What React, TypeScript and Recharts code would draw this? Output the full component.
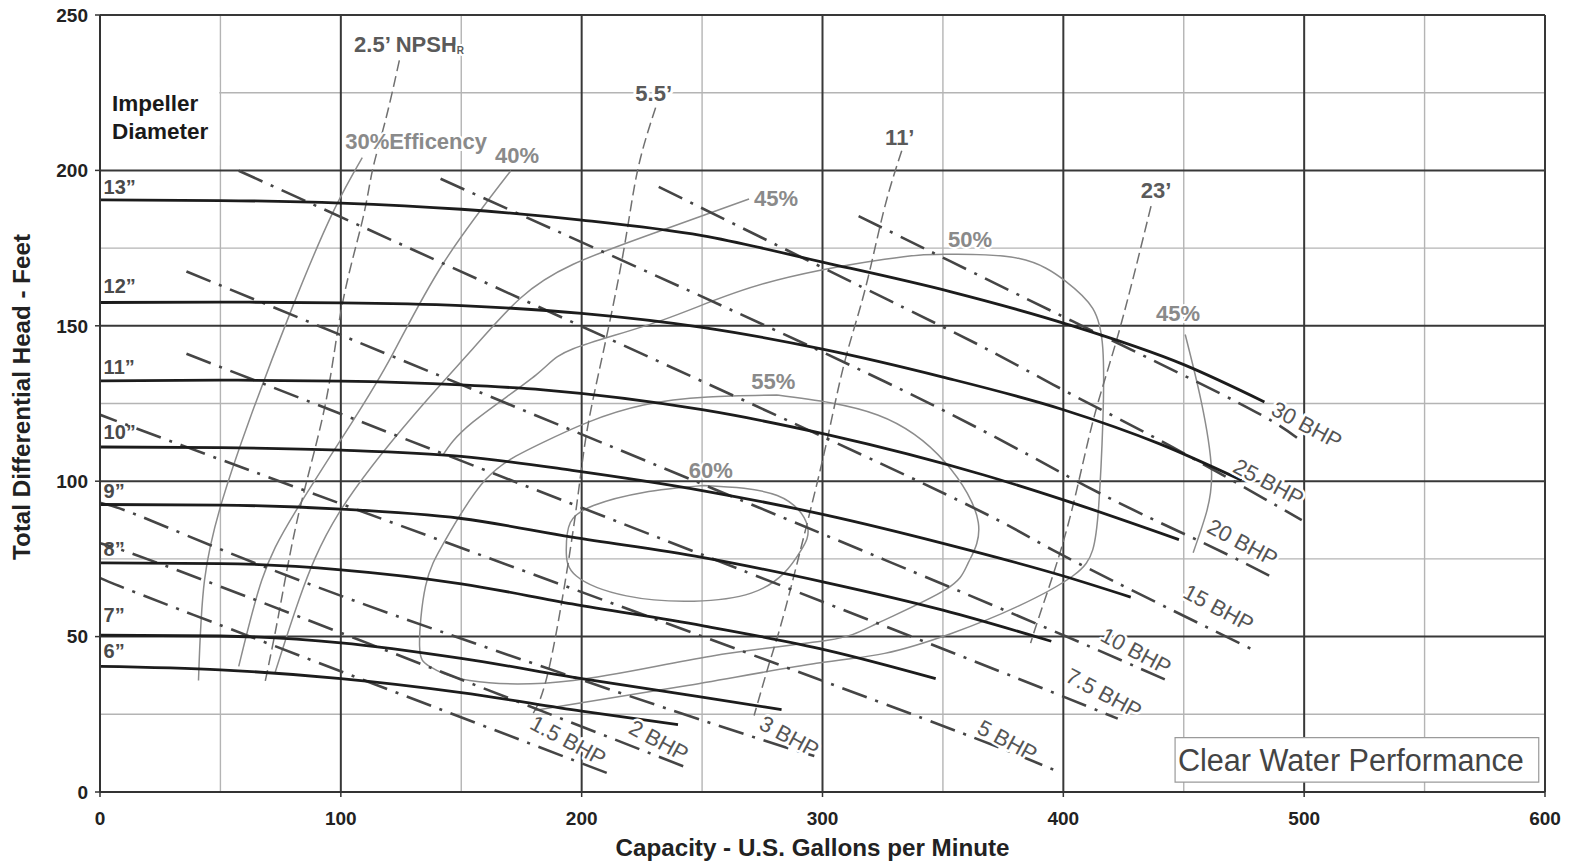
import React from "react";
import { CartesianGrid, ComposedChart, Line, ReferenceArea, Scatter, XAxis, YAxis } from "recharts";

type Pt = [number, number];

const FONT = "'Liberation Sans', Arial, Helvetica, sans-serif";

// axes and grid (gpm / feet)
const xTicks = [0, 100, 200, 300, 400, 500, 600];
const yTicks = [0, 50, 100, 150, 200, 250];
const xMajor = [100, 200, 300, 400, 500, 600];
const xMinor = [50, 150, 250, 350, 450, 550];
const yMajor = [50, 100, 150, 200, 250];
const yMinor = [25, 75, 125, 175, 225];

// impeller head curves
const imp13: Pt[] = [[0, 190.5], [50, 190.3], [100, 189.5], [150, 187.5], [200, 184], [250, 179], [300, 170.5], [353, 161], [402, 150.4], [450, 137.5], [483.5, 125.5]];
const imp12: Pt[] = [[0, 157.5], [50, 157.6], [100, 157.4], [150, 156.5], [200, 154], [250, 149.5], [300, 142.5], [350, 133.5], [400, 123], [440, 112], [474, 100.3]];
const imp11: Pt[] = [[0, 132.3], [50, 132.5], [100, 132.2], [150, 131], [184, 129.4], [250, 123], [302, 115], [367, 102], [400, 94], [448, 81.2]];
const imp10: Pt[] = [[0, 111], [50, 110.8], [100, 110], [150, 108], [196, 103.5], [250, 97], [302, 89], [350, 80], [400, 69.5], [428, 62.7]];
const imp9: Pt[] = [[0, 92.5], [50, 92.3], [100, 91], [150, 88], [196, 82], [250, 75.5], [302, 67.3], [350, 58.5], [395, 48.5]];
const imp8: Pt[] = [[0, 73.7], [50, 73.5], [100, 71.5], [150, 67], [196, 60.5], [250, 53.5], [302, 45.6], [347, 36.5]];
const imp7: Pt[] = [[0, 50.5], [50, 50.2], [100, 48], [150, 43], [200, 36.5], [250, 30.5], [283, 26.5]];
const imp6: Pt[] = [[0, 40.4], [50, 39.3], [100, 36.5], [150, 32], [200, 26], [240, 21.7]];
const impellerCurves = [imp13, imp12, imp11, imp10, imp9, imp8, imp7, imp6];
const impellerNames = ["13”", "12”", "11”", "10”", "9”", "8”", "7”", "6”"];
const impellerLabelHead = [194.7, 162.7, 136.8, 115.8, 97, 78.3, 56.9, 45.3];

// brake horsepower lines
const bhp30: Pt[] = [[315, 185.3], [353, 170.8], [404, 151.4], [472, 125.5], [497, 114]];
const bhp25: Pt[] = [[232, 194.7], [326, 158.8], [368, 142.6], [404, 127.7], [444, 111.5], [499, 87.5]];
const bhp20: Pt[] = [[141.4, 197.3], [326, 132], [409, 98.6], [458, 80.2], [487, 69]];
const bhp15: Pt[] = [[57.6, 199.9], [325.8, 105.1], [395.5, 77.9], [478.1, 46]];
const bhp10: Pt[] = [[35.9, 167.5], [325.8, 74.7], [443.1, 35.9]];
const bhp7_5: Pt[] = [[35.9, 141], [325.8, 53.4], [422.6, 23.6]];
const bhp5: Pt[] = [[0, 122.2], [33.8, 111.6], [297.5, 36.5], [398, 6.5]];
const bhp3: Pt[] = [[0, 93.1], [21.3, 87.3], [104.7, 61.8], [245.3, 24.3], [296.6, 11.6]];
const bhp2: Pt[] = [[0, 78.6], [33, 71.1], [242.8, 8.1]];
const bhp1_5: Pt[] = [[0, 68.9], [38.8, 57], [213.6, 5.2]];
const bhpLines = [bhp30, bhp25, bhp20, bhp15, bhp10, bhp7_5, bhp5, bhp3, bhp2, bhp1_5];
const bhpNames = ["30 BHP", "25 BHP", "20 BHP", "15 BHP", "10 BHP", "7.5 BHP", "5 BHP", "3 BHP", "2 BHP", "1.5 BHP"];
const bhpLabelAt: Pt[] = [[501.1, 118], [485.2, 99.6], [474.4, 80.2], [464.4, 59.2], [430.2, 45.3], [416.8, 31.7], [376.8, 16.5], [286.2, 17.8], [232, 16.5], [194.4, 16.5]];

// efficiency contours
const eff30: Pt[] = [[108.9, 204.1], [96.4, 186], [79.7, 155.6], [61.7, 119], [50.5, 93.1], [43.4, 68.2], [40.9, 35.9]];
const eff40: Pt[] = [[170.6, 199.9], [142.3, 169.8], [121.4, 140.7], [104.7, 119], [80.9, 89.9], [67.2, 68.2], [57.6, 40.4]];
const eff45a: Pt[] = [[269.5, 190.8], [229.9, 179.8], [196.5, 169.8], [174.4, 158.8], [154.8, 142.6], [130, 121], [99.3, 89.9], [82.6, 61.8], [72.6, 38.2]];
const eff45b: Pt[] = [[450.6, 147.2], [457.3, 125.5], [461.5, 103.8], [459.4, 89.9], [453.9, 77]];
const eff50: Pt[] = [[180.2, 26.2], [242, 34], [297.5, 41.4], [325.8, 44.6], [353.8, 51.1], [381.3, 59.8], [403.9, 69.5], [412.2, 77.9], [414.7, 92.2], [416.4, 119], [416.4, 142.6], [412.2, 155.6], [401, 164.3], [381.3, 171.7], [350.9, 173], [325.8, 171.4], [275.8, 163.6], [234.1, 152], [196.5, 142.6], [181.1, 134.2], [154.8, 119], [142.3, 108.3]];
const eff55: Pt[] = [[281.2, 127.7], [322.9, 121.3], [350.9, 106.1], [364.7, 86.7], [360.5, 73.7], [350.9, 65], [322.9, 54.3], [302.1, 48.8], [253.7, 43.7], [196.5, 35.9], [153.5, 35.9], [136.9, 40.4], [132.7, 46.9], [135.2, 66.3], [143.5, 81.2], [160.2, 100.6], [184, 112.5], [225.7, 124.5], [281.2, 127.7]];
const eff60: Pt[] = [[250.7, 98.6], [281.2, 95.4], [293.7, 85.7], [291.2, 77.9], [284.1, 70.5], [270.4, 64], [246.6, 61.4], [218.6, 63.1], [197.8, 69.5], [193.6, 77.9], [195.3, 86.7], [204.9, 92.2], [225.7, 96.4], [250.7, 98.6]];
const effCurves = [eff30, eff40, eff45a, eff45b, eff50, eff55, eff60];
const effNames = ["30%Efficency", "40%", "45%", "50%", "45%", "55%", "60%"];
const effLabelAt: Pt[] = [[101.8, 209.3], [164, 204.7], [271.6, 191.1], [352.1, 177.9], [438.5, 153.9], [270.4, 132], [244.5, 103.5]];

// NPSH required lines
const npsh2_5: Pt[] = [[124.3, 235.4], [118.5, 216], [113.1, 199.9], [108.9, 183.7], [100.6, 156.9], [93.5, 124.5], [82.6, 89.9], [74.3, 57.6], [68.4, 34.9]];
const npsh5_5: Pt[] = [[230.7, 220.2], [223.2, 199.9], [217.4, 174], [209, 141.7], [201.9, 114.8], [196.5, 84.4], [186.9, 41.4], [179.8, 25.2]];
const npsh11: Pt[] = [[332.9, 206.3], [325.4, 186.9], [317.5, 161.1], [309.2, 138.4], [301.7, 112.5], [293.7, 86.7], [284.1, 57.6], [277.9, 41.4], [271.6, 24.6]];
const npsh23: Pt[] = [[436.4, 188.5], [423.1, 148.1], [412.2, 119], [402.2, 86.7], [391.4, 59.8], [386.4, 47.9]];
const npshLines = [npsh2_5, npsh5_5, npsh11, npsh23];
const npshNames = ["5.5’", "11’", "23’"];
const npshLabelAt: Pt[] = [[229.9, 224.8], [332.1, 210.5], [438.5, 193.4]];
const npshTitleAt: Pt = [105.5, 240.6];

const impellerTitle = ["Impeller", "Diameter"];
const impellerTitleAt: Pt[] = [[5, 221.5], [5, 212.5]];
const impellerBox = { x1: 0, x2: 49.5, y1: 208, y2: 230 };
const noteBox = { x1: 446.4, x2: 597.4, y1: 3.2, y2: 17.5 };
const noteText = "Clear Water Performance";
const noteAt: Pt = [519.4, 10];

const toXY = (pts: Pt[]) => pts.map(([x, y]) => ({ x, y }));
const marks = (at: Pt[], texts: string[]) => at.map(([x, y], i) => ({ x, y, text: texts[i] }));

type TextStyle = {
  fill: string;
  size: number;
  weight?: number;
  anchor?: "start" | "middle" | "end";
  angle?: number;
  halo?: number;
  length?: number;
};

function textShape(s: TextStyle) {
  return (p: any) => {
    const { cx, cy, payload } = p;
    if (cx == null || cy == null) return <g />;
    return (
      <text
        x={cx}
        y={cy}
        fill={s.fill}
        fontSize={s.size}
        fontWeight={s.weight ?? 400}
        fontFamily={FONT}
        textAnchor={s.anchor ?? "start"}
        dominantBaseline="central"
        transform={s.angle ? `rotate(${s.angle} ${cx} ${cy})` : undefined}
        stroke={s.halo ? "#fff" : undefined}
        strokeWidth={s.halo}
        strokeLinejoin="round"
        paintOrder="stroke"
        textLength={s.length}
        lengthAdjust={s.length ? "spacingAndGlyphs" : undefined}
      >
        {payload.text}
        {payload.sub && (
          <tspan fontSize={10} dy={6}>
            {payload.sub}
          </tspan>
        )}
      </text>
    );
  };
}

function XTitle(props: any) {
  const vb = props.viewBox ?? { x: 100, y: 792, width: 1445 };
  return (
    <text x={vb.x + vb.width / 2 - 10} y={vb.y + 64} textAnchor="middle" fontFamily={FONT} fontWeight={700}
      fontSize={23} fill="#222" textLength={394} lengthAdjust="spacingAndGlyphs">
      Capacity - U.S. Gallons per Minute
    </text>
  );
}

function YTitle(props: any) {
  const vb = props.viewBox ?? { x: 40, y: 15, height: 777 };
  const cx = vb.x - 18;
  const cy = vb.y + vb.height / 2 - 6.5;
  return (
    <text x={cx} y={cy} transform={`rotate(-90 ${cx} ${cy})`} textAnchor="middle" dominantBaseline="central"
      fontFamily={FONT} fontWeight={700} fontSize={23} fill="#222" textLength={326} lengthAdjust="spacingAndGlyphs">
      Total Differential Head - Feet
    </text>
  );
}

const tickStyle = { fill: "#222", fontSize: 19, fontWeight: 700, fontFamily: FONT };

export default function App() {
  return (
    <div style={{ position: "absolute", left: 0, top: 0, width: 1576, height: 865, background: "#fff" }}>
      <ComposedChart width={1576} height={865} margin={{ top: 15, right: 31, bottom: 43, left: 40 }}>
        <CartesianGrid horizontalValues={yMinor} verticalValues={xMinor} stroke="#b4b4b4" strokeWidth={1.4} fill="none" />
        <CartesianGrid horizontalValues={yMajor} verticalValues={xMajor} stroke="#383838" strokeWidth={2} fill="none" />
        <XAxis
          type="number"
          dataKey="x"
          domain={[0, 600]}
          ticks={xTicks}
          allowDataOverflow
          height={30}
          tick={tickStyle}
          tickSize={5}
          tickMargin={15}
          axisLine={{ stroke: "#333", strokeWidth: 2 }}
          tickLine={{ stroke: "#333", strokeWidth: 1.5 }}
          label={(p: any) => <XTitle {...p} />}
        />
        <YAxis
          type="number"
          dataKey="y"
          domain={[0, 250]}
          ticks={yTicks}
          allowDataOverflow
          width={60}
          tick={tickStyle}
          tickSize={5}
          tickMargin={7}
          axisLine={{ stroke: "#333", strokeWidth: 2 }}
          tickLine={{ stroke: "#333", strokeWidth: 1.5 }}
          label={(p: any) => <YTitle {...p} />}
        />
        <ReferenceArea {...impellerBox} fill="#fff" fillOpacity={1} stroke="none" ifOverflow="visible" />

        {effCurves.map((c, i) => (
          <Line key={`eff${i}`} data={toXY(c)} dataKey="y" type="natural" stroke="#8c8c8c" strokeWidth={1.5}
            dot={false} activeDot={false} isAnimationActive={false} legendType="none" />
        ))}
        {npshLines.map((c, i) => (
          <Line key={`npsh${i}`} data={toXY(c)} dataKey="y" type="natural" stroke="#707070" strokeWidth={1.5}
            strokeDasharray="11 5" dot={false} activeDot={false} isAnimationActive={false} legendType="none" />
        ))}
        {bhpLines.map((c, i) => (
          <Line key={`bhp${i}`} data={toXY(c)} dataKey="y" type="natural" stroke="#454545" strokeWidth={2.6}
            strokeDasharray="26 9 3 9" dot={false} activeDot={false} isAnimationActive={false} legendType="none" />
        ))}
        {impellerCurves.map((c, i) => (
          <Line key={`imp${i}`} data={toXY(c)} dataKey="y" type="monotone" stroke="#1c1c1c" strokeWidth={2.8}
            dot={false} activeDot={false} isAnimationActive={false} legendType="none" />
        ))}

        <ReferenceArea {...noteBox} fill="#fff" fillOpacity={1} stroke="#9a9a9a" strokeWidth={1.2} ifOverflow="visible" />

        <Scatter data={marks([noteAt], [noteText])} isAnimationActive={false} legendType="none"
          shape={textShape({ fill: "#444", size: 31, anchor: "middle", length: 346 })} />
        <Scatter data={marks(impellerTitleAt, impellerTitle)} isAnimationActive={false} legendType="none"
          shape={textShape({ fill: "#1a1a1a", size: 22.5, weight: 700 })} />
        <Scatter data={marks(impellerLabelHead.map((h) => [1.5, h] as Pt), impellerNames)} isAnimationActive={false}
          legendType="none" shape={textShape({ fill: "#4a4a4a", size: 20, weight: 700 })} />
        <Scatter data={marks(effLabelAt, effNames)} isAnimationActive={false} legendType="none"
          shape={textShape({ fill: "#8a8a8a", size: 22, weight: 700, halo: 4 })} />
        <Scatter data={[{ x: npshTitleAt[0], y: npshTitleAt[1], text: "2.5’ NPSH", sub: "R" }]} isAnimationActive={false}
          legendType="none" shape={textShape({ fill: "#5a5a5a", size: 22, weight: 700, halo: 4 })} />
        <Scatter data={marks(npshLabelAt, npshNames)} isAnimationActive={false} legendType="none"
          shape={textShape({ fill: "#5a5a5a", size: 22, weight: 700, anchor: "middle", halo: 6 })} />
        <Scatter data={marks(bhpLabelAt, bhpNames)} isAnimationActive={false} legendType="none"
          shape={textShape({ fill: "#555", size: 22, anchor: "middle", angle: 28, halo: 5 })} />
      </ComposedChart>
    </div>
  );
}
